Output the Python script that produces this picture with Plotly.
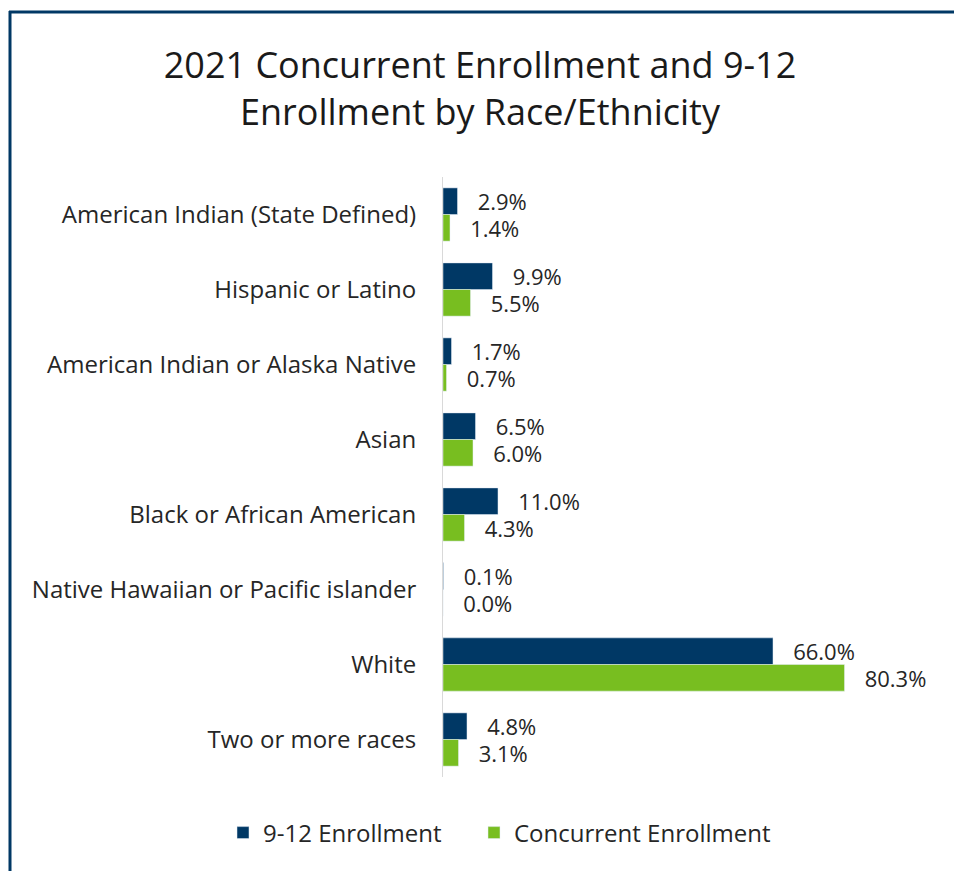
import plotly.graph_objects as go

# data
categories = [
    "American Indian (State Defined)",
    "Hispanic or Latino",
    "American Indian or Alaska Native",
    "Asian",
    "Black or African American",
    "Native Hawaiian or Pacific islander",
    "White",
    "Two or more races",
]
enroll_9_12 = [2.9, 9.9, 1.7, 6.5, 11.0, 0.1, 66.0, 4.8]
concurrent = [1.4, 5.5, 0.7, 6.0, 4.3, 0.0, 80.3, 3.1]

NAVY = "#003865"
GREEN = "#78BE20"
FONT = "Open Sans, sans-serif"

# page body has an 8px margin, so the figure is a bit smaller than the window
W, H = 954, 863
ML, MR, MT, MB = 435, 19, 169, 94

fig = go.Figure()
fig.add_trace(go.Bar(
    y=categories, x=enroll_9_12, orientation="h", name="9-12 Enrollment",
    marker_color=NAVY, texttemplate="   %{x:.1f}%",
    textposition="outside", cliponaxis=False, constraintext="none",
    textfont=dict(size=22, color="#262626", family=FONT),
    legend="legend",
))
fig.add_trace(go.Bar(
    y=categories, x=concurrent, orientation="h", name="Concurrent Enrollment",
    marker_color=GREEN, texttemplate="   %{x:.1f}%",
    textposition="outside", cliponaxis=False, constraintext="none",
    textfont=dict(size=22, color="#262626", family=FONT),
    legend="legend2",
))

# helpers to place things in paper coords from figure pixels
pw, ph = W - ML - MR, H - MT - MB
def px_x(p):
    return (p - ML) / pw
def px_y(p):
    return (H - MB - p) / ph

frame = dict(color=NAVY, width=3)
fig.add_shape(type="line", xref="paper", yref="paper",
              x0=px_x(2), x1=px_x(2), y0=px_y(3), y1=px_y(H + 5), line=frame)
fig.add_shape(type="line", xref="paper", yref="paper",
              x0=px_x(1), x1=px_x(W), y0=px_y(4), y1=px_y(4), line=frame)

legend_style = dict(orientation="h", xref="paper", yref="paper",
                    xanchor="left", y=px_y(825), yanchor="middle",
                    font=dict(size=24, color="#262626", family=FONT))

fig.update_layout(
    width=W, height=H,
    margin=dict(l=ML, r=MR, t=MT, b=MB),
    paper_bgcolor="white", plot_bgcolor="white",
    barmode="group", bargap=0.29, bargroupgap=0,
    font=dict(family=FONT, color="#262626"),
    title=dict(
        text="2021 Concurrent Enrollment and 9-12<br>Enrollment by Race/Ethnicity",
        x=472 / W, xanchor="center", xref="container",
        y=1 - 70 / H, yanchor="middle", yref="container",
        font=dict(size=36, color="#1a1a1a", family=FONT),
    ),
    xaxis=dict(range=[0, 100], showgrid=False, zeroline=False,
               showticklabels=False, showline=False),
    yaxis=dict(autorange="reversed", showgrid=False, zeroline=False,
               showline=True, linecolor="#d9d9d9", linewidth=1,
               ticks="", ticklabelstandoff=21,
               tickfont=dict(size=24, color="#262626", family=FONT)),
    legend=dict(x=px_x(215), **legend_style),
    legend2=dict(x=px_x(466), **legend_style),
    showlegend=True,
)

fig.write_html("out.html")
